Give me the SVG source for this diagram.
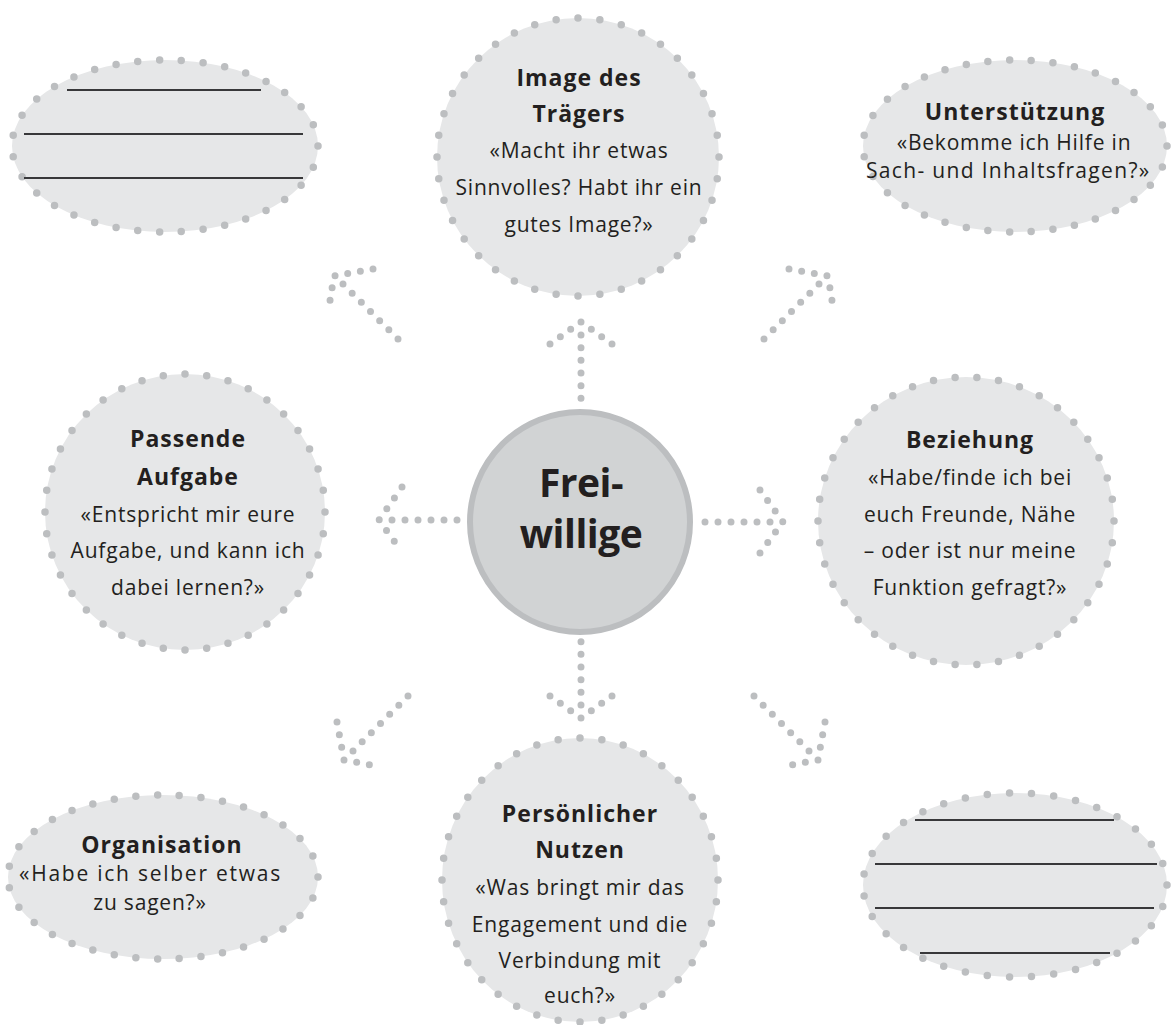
<svg xmlns="http://www.w3.org/2000/svg" width="1171" height="1025" viewBox="0 0 1171 1025">
<style>
.bg{fill:#ffffff}
.fill{fill:#e6e7e8}
.dots{fill:none;stroke:#bcbec0;stroke-width:7.5;stroke-linecap:round;stroke-dasharray:0 1}
.arrow{fill:none;stroke:#bcbec0;stroke-width:7;stroke-linecap:round;stroke-linejoin:round;stroke-dasharray:0 1}
.h{font-family:"Open Sans","Noto Sans",sans-serif;font-weight:bold;font-size:23px;fill:#231f20;text-anchor:middle;letter-spacing:1px}
.t{font-family:"Open Sans","Noto Sans",sans-serif;font-size:21px;fill:#231f20;text-anchor:middle;letter-spacing:0.8px}
.big{font-family:"Open Sans","Noto Sans",sans-serif;font-weight:bold;font-size:39px;fill:#231f20;text-anchor:middle;letter-spacing:-0.5px}
.rule{stroke:#38383a;stroke-width:1.8}
</style>
<rect class="bg" x="0" y="0" width="1171" height="1025"/>
<g id="connectors">
  <path class="arrow" pathLength="6" d="M581,335 L581,411"/>
  <path class="arrow" pathLength="6" d="M550,344 L581,322 L612,344"/>
  <path class="arrow" pathLength="6" d="M581,705 L581,629"/>
  <path class="arrow" pathLength="6" d="M550,696 L581,718 L612,696"/>
  <path class="arrow" pathLength="6" d="M392,520 L470,520"/>
  <path class="arrow" pathLength="6" d="M402,487 L379,520 L402,552"/>
  <path class="arrow" pathLength="6" d="M770,522 L692,522"/>
  <path class="arrow" pathLength="6" d="M760,490 L783,522 L760,553"/>
  <path class="arrow" pathLength="6" d="M343,284 L398,339"/>
  <path class="arrow" pathLength="6" d="M373,269 L334,276 L328,313"/>
  <path class="arrow" pathLength="6" d="M819,284 L764,339"/>
  <path class="arrow" pathLength="6" d="M789,269 L828,276 L834,313"/>
  <path class="arrow" pathLength="6" d="M754,696 L809,751"/>
  <path class="arrow" pathLength="6" d="M825,722 L818,760 L780,767"/>
  <path class="arrow" pathLength="6" d="M408,696 L353,751"/>
  <path class="arrow" pathLength="6" d="M337,722 L344,760 L382,767"/>
</g>
<g id="node-blank-top-left">
  <ellipse class="fill" cx="165" cy="146" rx="153" ry="86"/>
  <ellipse class="dots" pathLength="35" cx="165" cy="146" rx="153" ry="86"/>
  <line class="rule" x1="67" y1="90" x2="261" y2="90"/>
  <line class="rule" x1="24" y1="134" x2="303" y2="134"/>
  <line class="rule" x1="24" y1="178" x2="303" y2="178"/>
</g>
<g id="node-image">
  <ellipse class="fill" cx="578" cy="157" rx="141" ry="139"/>
  <ellipse class="dots" pathLength="40" cx="578" cy="157" rx="141" ry="139"/>
  <text class="h" x="579" y="86">Image des</text>
  <text class="h" x="579" y="122">Trägers</text>
  <text class="t" x="579" y="158">«Macht ihr etwas</text>
  <text class="t" x="579" y="195">Sinnvolles? Habt ihr ein</text>
  <text class="t" x="579" y="232">gutes Image?»</text>
</g>
<g id="node-unterstuetzung">
  <ellipse class="fill" cx="1015" cy="146" rx="152" ry="86"/>
  <ellipse class="dots" pathLength="35" cx="1015" cy="146" rx="152" ry="86"/>
  <text class="h" x="1015" y="120">Unterstützung</text>
  <text class="t" x="1014" y="150">«Bekomme ich Hilfe in</text>
  <text class="t" x="1008" y="178" textLength="284" lengthAdjust="spacing">Sach- und Inhaltsfragen?»</text>
</g>
<g id="node-aufgabe">
  <ellipse class="fill" cx="185" cy="512" rx="140" ry="138"/>
  <ellipse class="dots" pathLength="40" cx="185" cy="512" rx="140" ry="138"/>
  <text class="h" x="188" y="447">Passende</text>
  <text class="h" x="188" y="485">Aufgabe</text>
  <text class="t" x="188" y="522">«Entspricht mir eure</text>
  <text class="t" x="188" y="558">Aufgabe, und kann ich</text>
  <text class="t" x="188" y="595">dabei lernen?»</text>
</g>
<g id="node-freiwillige">
  <circle cx="580" cy="522" r="110" fill="#d1d3d4" stroke="#bcbec0" stroke-width="6"/>
  <text class="big" x="581" y="497">Frei-</text>
  <text class="big" x="581" y="548">willige</text>
</g>
<g id="node-beziehung">
  <ellipse class="fill" cx="966" cy="521" rx="148" ry="144"/>
  <ellipse class="dots" pathLength="42" cx="966" cy="521" rx="148" ry="144"/>
  <text class="h" x="970" y="448">Beziehung</text>
  <text class="t" x="970" y="485">«Habe/finde ich bei</text>
  <text class="t" x="970" y="522">euch Freunde, Nähe</text>
  <text class="t" x="970" y="558">– oder ist nur meine</text>
  <text class="t" x="970" y="595">Funktion gefragt?»</text>
</g>
<g id="node-organisation">
  <ellipse class="fill" cx="163" cy="877" rx="155" ry="82"/>
  <ellipse class="dots" pathLength="35" cx="163" cy="877" rx="155" ry="82"/>
  <text class="h" x="162" y="853">Organisation</text>
  <text class="t" x="150" y="881" textLength="262" lengthAdjust="spacing">«Habe ich selber etwas</text>
  <text class="t" x="150" y="910">zu sagen?»</text>
</g>
<g id="node-nutzen">
  <ellipse class="fill" cx="580" cy="880" rx="138" ry="142"/>
  <ellipse class="dots" pathLength="40" cx="580" cy="880" rx="138" ry="142"/>
  <text class="h" x="580" y="822">Persönlicher</text>
  <text class="h" x="580" y="858">Nutzen</text>
  <text class="t" x="580" y="895">«Was bringt mir das</text>
  <text class="t" x="580" y="932">Engagement und die</text>
  <text class="t" x="580" y="968">Verbindung mit</text>
  <text class="t" x="580" y="1003">euch?»</text>
</g>
<g id="node-blank-bottom-right">
  <ellipse class="fill" cx="1015" cy="885" rx="152" ry="92"/>
  <ellipse class="dots" pathLength="35" cx="1015" cy="885" rx="152" ry="92"/>
  <line class="rule" x1="915" y1="820" x2="1114" y2="820"/>
  <line class="rule" x1="875" y1="864" x2="1157" y2="864"/>
  <line class="rule" x1="875" y1="908" x2="1154" y2="908"/>
  <line class="rule" x1="920" y1="953" x2="1110" y2="953"/>
</g>
</svg>
